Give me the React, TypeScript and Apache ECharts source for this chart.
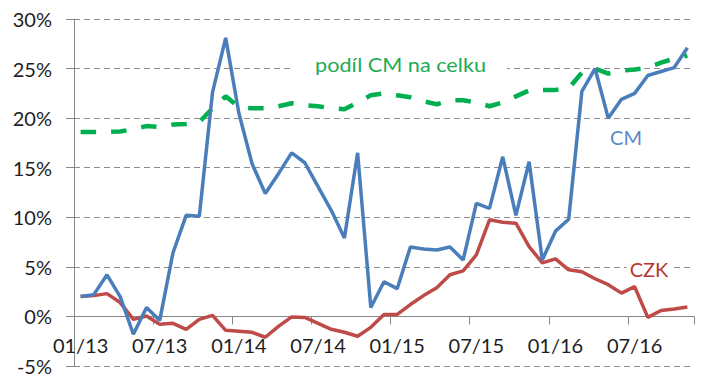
import React, { useEffect, useRef } from "react";
import * as echarts from "echarts";

const months = [
  "01/13", "02/13", "03/13", "04/13", "05/13", "06/13", "07/13", "08/13", "09/13", "10/13", "11/13", "12/13",
  "01/14", "02/14", "03/14", "04/14", "05/14", "06/14", "07/14", "08/14", "09/14", "10/14", "11/14", "12/14",
  "01/15", "02/15", "03/15", "04/15", "05/15", "06/15", "07/15", "08/15", "09/15", "10/15", "11/15", "12/15",
  "01/16", "02/16", "03/16", "04/16", "05/16", "06/16", "07/16", "08/16", "09/16", "10/16", "11/16",
];

const cmValues = [
  2.0, 2.2, 4.2, 2.0, -1.8, 0.9, -0.4, 6.4, 10.2, 10.1, 22.6, 28.1,
  20.5, 15.4, 12.4, 14.4, 16.5, 15.5, 13.1, 10.7, 7.9, 16.5, 0.9, 3.5,
  2.8, 7.0, 6.8, 6.7, 7.0, 5.7, 11.4, 10.9, 16.1, 10.2, 15.6, 5.7,
  8.6, 9.8, 22.7, 25.0, 20.0, 21.9, 22.5, 24.3, 24.7, 25.1, 27.1,
];

const czkValues = [
  2.0, 2.1, 2.3, 1.4, -0.3, 0.05, -0.8, -0.7, -1.3, -0.3, 0.1, -1.4,
  -1.5, -1.6, -2.1, -1.0, -0.05, -0.1, -0.7, -1.3, -1.6, -2.0, -1.1, 0.2,
  0.2, 1.2, 2.1, 2.9, 4.2, 4.6, 6.2, 9.75, 9.5, 9.4, 7.05, 5.4,
  5.8, 4.7, 4.5, 3.8, 3.2, 2.35, 3.0, -0.1, 0.6, 0.75, 0.95,
];

const shareValues = [
  18.6, 18.6, 18.6, 18.65, 18.9, 19.2, 19.1, 19.35, 19.4, 19.6, 21.0, 22.2,
  21.1, 21.0, 21.0, 21.2, 21.5, 21.3, 21.2, 21.0, 20.9, 21.6, 22.3, 22.5,
  22.3, 22.1, 21.7, 21.4, 21.8, 21.8, 21.6, 21.2, 21.6, 22.2, 22.8, 22.85,
  22.85, 23.0, 24.6, 25.0, 24.5, 24.8, 24.9, 25.1, 25.6, 26.0, 26.3,
];

const yMin = -5;
const yMax = 30;
const yStep = 5;

const labelShare = "podíl CM na celku";
const labelCM = "CM";
const labelCZK = "CZK";

const FONT = "Lato, 'Open Sans', sans-serif";

const GRID_TOP = 19;
const GRID_BOTTOM = 16;
const CHART_H = 382;

export default function App() {
  const ref = useRef<HTMLDivElement>(null);

  useEffect(() => {
    if (!ref.current) return;
    const chart = echarts.init(ref.current, null, { renderer: "svg" });
    const axisGray = "#868686";
    // place the category axis on the zero line of the value axis
    const plotH = CHART_H - GRID_TOP - GRID_BOTTOM;
    const zeroOffset = -((0 - yMin) / (yMax - yMin)) * plotH;
    const option: any = {
      animation: false,
      backgroundColor: "#ffffff",
      grid: {
        left: 74,
        right: 10,
        top: GRID_TOP,
        bottom: GRID_BOTTOM,
        containLabel: false,
        outerBoundsMode: "none",
      },
      xAxis: {
        type: "category",
        data: months,
        boundaryGap: true,
        position: "bottom",
        offset: zeroOffset,
        axisLine: { show: true, onZero: false, lineStyle: { color: axisGray, width: 1 } },
        axisTick: { show: true, interval: 5, length: 8, alignWithLabel: false, lineStyle: { color: axisGray } },
        axisLabel: { interval: 5, margin: 19, fontSize: 20, fontFamily: FONT, color: "#1e1e1e" },
        splitLine: { show: false },
      },
      yAxis: {
        type: "value",
        min: yMin,
        max: yMax,
        interval: yStep,
        axisLine: { show: true, lineStyle: { color: axisGray, width: 1 } },
        axisTick: { show: true, length: 8, lineStyle: { color: axisGray } },
        axisLabel: { formatter: "{value}%", margin: 22, fontSize: 20, fontFamily: FONT, color: "#1e1e1e" },
        splitLine: { show: true, lineStyle: { color: "#8c8c8c", width: 1, type: [6, 4] } },
      },
      series: [
        {
          name: labelShare,
          type: "line",
          data: shareValues,
          symbol: "none",
          smooth: false,
          lineStyle: { color: "#00B050", width: 4.5, type: [15.5, 15] },
          itemStyle: { color: "#00B050" },
          z: 2,
        },
        {
          name: labelCZK,
          type: "line",
          data: czkValues,
          symbol: "none",
          smooth: false,
          lineStyle: { color: "#BE4B48", width: 3.5 },
          itemStyle: { color: "#BE4B48" },
          z: 3,
        },
        {
          name: labelCM,
          type: "line",
          data: cmValues,
          symbol: "none",
          smooth: false,
          lineStyle: { color: "#4A7EBB", width: 3.5 },
          itemStyle: { color: "#4A7EBB" },
          z: 4,
        },
      ],
      graphic: [
        {
          type: "text",
          x: 400.5,
          y: 64.5,
          scaleX: 1.11,
          z: 10,
          style: {
            text: labelShare,
            fill: "#22AA55",
            fontSize: 19.5,
            fontFamily: FONT,
            align: "center",
            verticalAlign: "middle",
            backgroundColor: "#ffffff",
            padding: [3, 19],
          },
        },
        {
          type: "text",
          x: 626,
          y: 136.5,
          z: 10,
          style: {
            text: labelCM,
            fill: "#5A8AC8",
            fontSize: 20,
            fontFamily: FONT,
            align: "center",
            verticalAlign: "middle",
          },
        },
        {
          type: "text",
          x: 649,
          y: 269,
          z: 10,
          style: {
            text: labelCZK,
            fill: "#B8352F",
            fontSize: 20,
            fontFamily: FONT,
            align: "center",
            verticalAlign: "middle",
            backgroundColor: "#ffffff",
            padding: [2, 3],
          },
        },
      ],
    };
    chart.setOption(option);
    return () => {
      chart.dispose();
    };
  }, []);

  return (
    <div
      ref={ref}
      style={{ position: "absolute", left: 0, top: 0, width: 704, height: 382, background: "#fff" }}
    />
  );
}
